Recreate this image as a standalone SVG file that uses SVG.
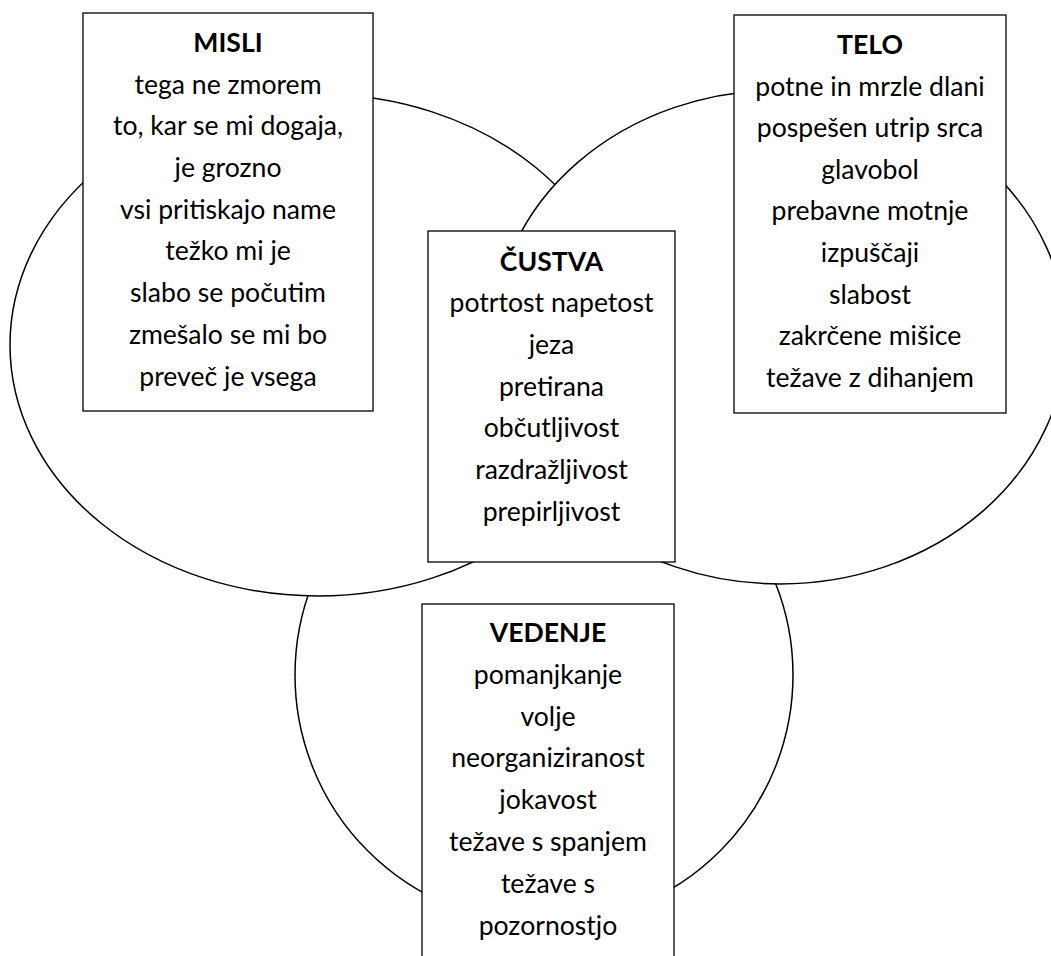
<svg xmlns="http://www.w3.org/2000/svg" width="1051" height="956" viewBox="0 0 1051 956">
<style>
.set{fill:#fff;stroke:#000;stroke-width:1.5}
.box{fill:#fff;stroke:#000;stroke-width:1.3}
text{font-family:Lato,"Liberation Sans",sans-serif;font-size:26.6px;fill:#000;text-anchor:middle}
.t{font-weight:bold}
</style>
<rect width="1051" height="956" fill="#fff"/>
<g id="sets">
<circle class="set" cx="544" cy="675" r="249"/>
<ellipse class="set" cx="318" cy="345" rx="308" ry="251"/>
<ellipse class="set" cx="780" cy="337" rx="286" ry="247"/>
</g>
<g id="connectors"></g>
<g id="misli">
<rect class="box" x="83" y="13" width="290" height="398"/>
<text class="t" x="228" y="52">MISLI</text>
<text x="228" y="94">tega ne zmorem</text>
<text x="228" y="135">to, kar se mi dogaja,</text>
<text x="228" y="177">je grozno</text>
<text x="228" y="219">vsi pritiskajo name</text>
<text x="228" y="260">težko mi je</text>
<text x="228" y="302">slabo se počutim</text>
<text x="228" y="344">zmešalo se mi bo</text>
<text x="228" y="386">preveč je vsega</text>
</g>
<g id="telo">
<rect class="box" x="734" y="15" width="272" height="398"/>
<text class="t" x="870" y="54">TELO</text>
<text x="870" y="96">potne in mrzle dlani</text>
<text x="870" y="137">pospešen utrip srca</text>
<text x="870" y="179">glavobol</text>
<text x="870" y="220">prebavne motnje</text>
<text x="870" y="262">izpuščaji</text>
<text x="870" y="304">slabost</text>
<text x="870" y="345">zakrčene mišice</text>
<text x="870" y="387">težave z dihanjem</text>
</g>
<g id="custva">
<rect class="box" x="428" y="231" width="247" height="331"/>
<text class="t" x="551.5" y="271">ČUSTVA</text>
<text x="551.5" y="312">potrtost napetost</text>
<text x="551.5" y="354">jeza</text>
<text x="551.5" y="396">pretirana</text>
<text x="551.5" y="437">občutljivost</text>
<text x="551.5" y="479">razdražljivost</text>
<text x="551.5" y="521">prepirljivost</text>
</g>
<g id="vedenje">
<rect class="box" x="422" y="604" width="252" height="360"/>
<text class="t" x="548" y="642">VEDENJE</text>
<text x="548" y="684">pomanjkanje</text>
<text x="548" y="726">volje</text>
<text x="548" y="767">neorganiziranost</text>
<text x="548" y="809">jokavost</text>
<text x="548" y="851">težave s spanjem</text>
<text x="548" y="893">težave s</text>
<text x="548" y="935">pozornostjo</text>
</g>
</svg>
